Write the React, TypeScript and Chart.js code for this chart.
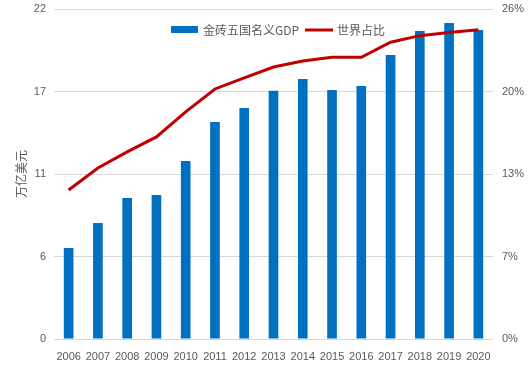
import React, { useEffect, useRef } from "react";
import { Chart, registerables } from "chart.js";

Chart.register(...registerables);

const years = ["2006","2007","2008","2009","2010","2011","2012","2013","2014","2015","2016","2017","2018","2019","2020"];
const gdp = [6.07, 7.73, 9.4, 9.6, 11.87, 14.47, 15.4, 16.55, 17.33, 16.6, 16.87, 18.93, 20.53, 21.07, 20.6];
const share = [11.74, 13.47, 14.74, 15.92, 17.89, 19.7, 20.57, 21.43, 21.9, 22.2, 22.2, 23.38, 23.9, 24.14, 24.37];
const barLabel = "金砖五国名义GDP";
const lineLabel = "世界占比";
const yTitle = "万亿美元";

const BLUE = "#0070C0";
const RED = "#C00000";
const TXT = "#595959";
const FONT = "'Noto Sans CJK SC', 'Noto Sans', sans-serif";

const legendPlugin = {
  id: "customLegend",
  afterDraw(chart: any) {
    const ctx = chart.ctx;
    ctx.save();
    ctx.font = `12px ${FONT}`;
    ctx.fillStyle = BLUE;
    ctx.fillRect(171, 26, 27, 7);
    ctx.fillStyle = TXT;
    ctx.textBaseline = "middle";
    ctx.textAlign = "left";
    ctx.fillText(barLabel, 203, 30);
    ctx.strokeStyle = RED;
    ctx.lineWidth = 3;
    ctx.beginPath();
    ctx.moveTo(305, 30);
    ctx.lineTo(333, 30);
    ctx.stroke();
    ctx.fillText(lineLabel, 337, 30);
    ctx.restore();
  },
};

export default function App() {
  const ref = useRef<HTMLCanvasElement>(null);
  useEffect(() => {
    document.body.style.margin = "0";
    const chart = new Chart(ref.current!, {
      type: "bar",
      data: {
        labels: years,
        datasets: [
          {
            type: "line",
            label: lineLabel,
            data: share,
            yAxisID: "y1",
            borderColor: RED,
            backgroundColor: RED,
            borderWidth: 3,
            pointRadius: 0,
            tension: 0,
            order: 0,
          } as any,
          {
            type: "bar",
            label: barLabel,
            data: gdp,
            yAxisID: "y",
            backgroundColor: BLUE,
            categoryPercentage: 1,
            barPercentage: 0.33,
            order: 1,
          },
        ],
      },
      options: {
        responsive: false,
        animation: false,
        layout: { padding: { top: 9, right: 0, left: 0, bottom: 0 } },
        plugins: { legend: { display: false }, tooltip: { enabled: false } },
        scales: {
          x: {
            grid: { display: false },
            border: { display: false },
            ticks: { color: TXT, font: { size: 11, family: "'Liberation Sans', Arial" }, maxRotation: 0, autoSkip: false, padding: 3 },
            afterFit(s: any) { s.height = 28; s.paddingLeft = 0; s.paddingRight = 0; },
          },
          y: {
            position: "left",
            min: 0,
            max: 22,
            afterBuildTicks(s: any) { s.ticks = [0, 5.5, 11, 16.5, 22].map((v) => ({ value: v })); },
            ticks: {
              color: TXT,
              font: { size: 11, family: "'Liberation Sans', Arial" },
              padding: 8,
              callback: (v: any) => String(Math.round(Number(v))),
            },
            grid: { color: "#D9D9D9", drawTicks: false, lineWidth: 1 },
            border: { display: false },
            title: { display: true, text: yTitle, color: TXT, font: { size: 12, family: FONT }, padding: { top: 14, bottom: 0 } },
            afterFit(s: any) { s.width = 54; s.paddingTop = 0; s.paddingBottom = 0; },
          },
          y1: {
            position: "right",
            min: 0,
            max: 26,
            afterBuildTicks(s: any) { s.ticks = [0, 6.5, 13, 19.5, 26].map((v) => ({ value: v })); },
            ticks: {
              color: TXT,
              font: { size: 11, family: "'Liberation Sans', Arial" },
              padding: 9,
              callback: (v: any) => Math.round(Number(v)) + "%",
            },
            grid: { display: false, drawTicks: false },
            border: { display: false },
            afterFit(s: any) { s.width = 36; s.paddingTop = 0; s.paddingBottom = 0; },
          },
        },
      },
      plugins: [legendPlugin],
    });
    return () => chart.destroy();
  }, []);
  return <canvas ref={ref} width={529} height={367} style={{ display: "block" }} />;
}
